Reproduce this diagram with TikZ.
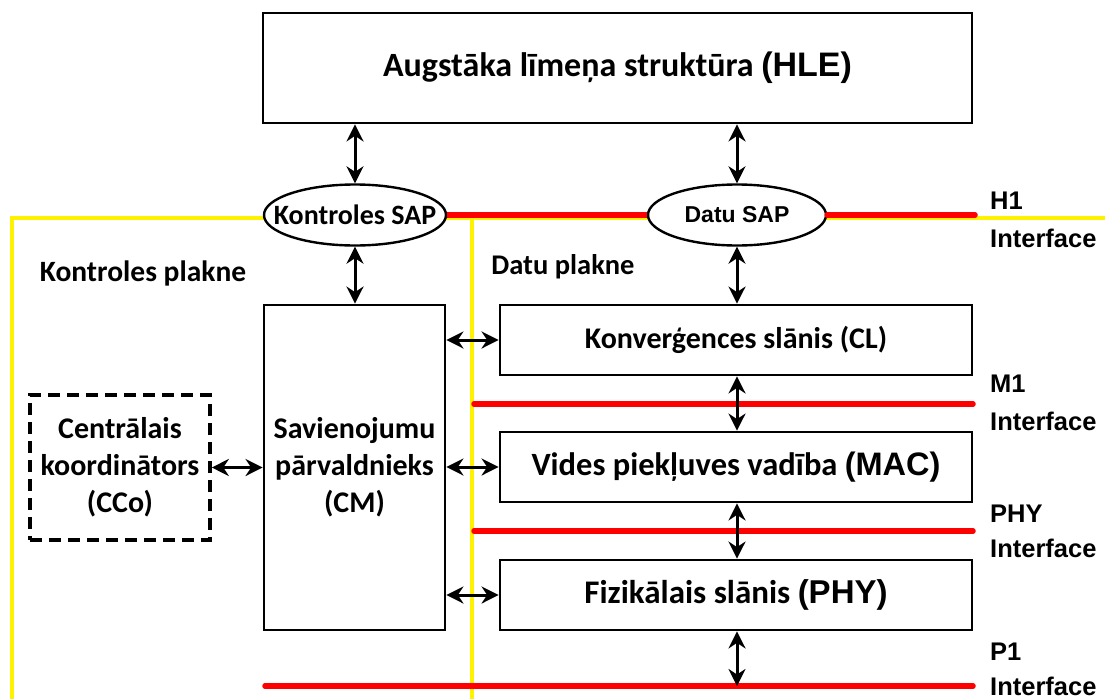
\documentclass[tikz,border=0pt]{standalone}
\usepackage{fontspec}
\setmainfont{Carlito}
\newfontfamily\arl{Liberation Sans}
\usetikzlibrary{shapes.geometric,arrows.meta}
\begin{document}
\begin{tikzpicture}[x=1pt,y=-1pt,
  box/.style={draw=black,line width=2.8pt,minimum width=#1,inner sep=0pt,align=center},
  sap/.style={draw=black,line width=2.4pt,ellipse,inner ysep=0pt,minimum height=61pt,fill=white},
  dbl/.style={{Stealth[length=17pt,width=17pt]}-{Stealth[length=17pt,width=17pt]},line width=3pt},
  yel/.style={draw=yellow,line width=4.5pt},
  redl/.style={draw=red,line width=5.5pt,line cap=round},
  lbl/.style={inner sep=0pt},
  iflbl/.style={font=\arl\bfseries\fontsize{25.5}{28}\selectfont,anchor=west,inner sep=0pt,align=left}
]
\useasboundingbox (0,0) rectangle (1105,699);
% yellow plane borders
\draw[yel] (12,699) -- (12,218) -- (1105,218);
\draw[yel] (472,218) -- (472,699);
% nodes
\node[box=709pt,minimum height=110pt,font=\bfseries\fontsize{34}{38}\selectfont] (hle) at (617.5,68) {Augstāka līmeņa struktūra {\arl(HLE)}};
\node[sap,minimum width=182pt,inner xsep=-18pt,font=\bfseries\fontsize{28}{30}\selectfont] (ksap) at (355,215) {Kontroles SAP};
\node[sap,minimum width=178pt,inner xsep=0pt,font=\arl\bfseries\fontsize{23}{26}\selectfont] (dsap) at (737,215) {Datu SAP};
\node[box=181pt,minimum height=325pt,font=\bfseries\fontsize{30}{37}\selectfont] (cm) at (354.5,467.5) {Savienojumu\\pārvaldnieks\\(CM)};
\node[box=180pt,minimum height=145pt,line width=3.6pt,dash pattern=on 12pt off 7pt,font=\bfseries\fontsize{30}{37}\selectfont] (cco) at (120,467.5) {Centrālais\\koordinātors\\(CCo)};
\node[box=472pt,minimum height=70pt,font=\bfseries\fontsize{30}{32}\selectfont] (cl) at (736,340) {Konverģences slānis (CL)};
\node[box=472pt,minimum height=70pt,font=\bfseries\fontsize{32.5}{34}\selectfont] (mac) at (736,467) {Vides piekļuves vadība {\arl(MAC)}};
\node[box=472pt,minimum height=70pt,font=\bfseries\fontsize{33}{35}\selectfont] (phy) at (736,595) {Fizikālais slānis {\arl(PHY)}};
\node[lbl,font=\bfseries\fontsize{29.5}{32}\selectfont] (kpl) at (143,273) {Kontroles plakne};
\node[lbl,font=\bfseries\fontsize{28.5}{32}\selectfont] (dpl) at (563,267) {Datu plakne};
% interface lines
\coordinate (h1e) at (975,215);
\coordinate (m1s) at (474,404);
\coordinate (m1e) at (973,404);
\coordinate (pys) at (474,531);
\coordinate (pye) at (973,531);
\coordinate (p1s) at (265,686);
\coordinate (p1e) at (973,686);
\draw[red,line width=5.5pt] (ksap.east) -- (dsap.west);
\draw[redl] (dsap.east) -- (h1e);
\draw[redl] (m1s) -- (m1e);
\draw[redl] (pys) -- (pye);
\draw[redl] (p1s) -- (p1e);
% interface labels
\node[iflbl] (h1) at (990,201) {H1};
\node[iflbl] (h1i) at (990,238) {Interface};
\node[iflbl] (m1) at (990,384) {M1};
\node[iflbl] (m1i) at (990,421) {Interface};
\node[iflbl] (py) at (990,514) {PHY};
\node[iflbl] (pyi) at (990,548) {Interface};
\node[iflbl] (p1) at (990,652) {P1};
\node[iflbl] (p1i) at (990,686) {Interface};
% arrows
\draw[dbl] (hle.south -| ksap) -- (ksap.north);
\draw[dbl] (hle.south -| dsap) -- (dsap.north);
\draw[dbl] (ksap.south) -- (cm.north -| ksap);
\draw[dbl] (dsap.south) -- (cl.north -| dsap);
\draw[dbl] (cco.east) -- (cm.west |- cco.east);
\draw[dbl] (cm.east |- cl.west) -- (cl.west);
\draw[dbl] (cm.east |- mac.west) -- (mac.west);
\draw[dbl] (cm.east |- phy.west) -- (phy.west);
\draw[dbl] (cl.south -| dsap) -- (mac.north -| dsap);
\draw[dbl] (mac.south -| dsap) -- (phy.north -| dsap);
\draw[dbl] (phy.south -| dsap) -- (p1e -| dsap);
\end{tikzpicture}
\end{document}
